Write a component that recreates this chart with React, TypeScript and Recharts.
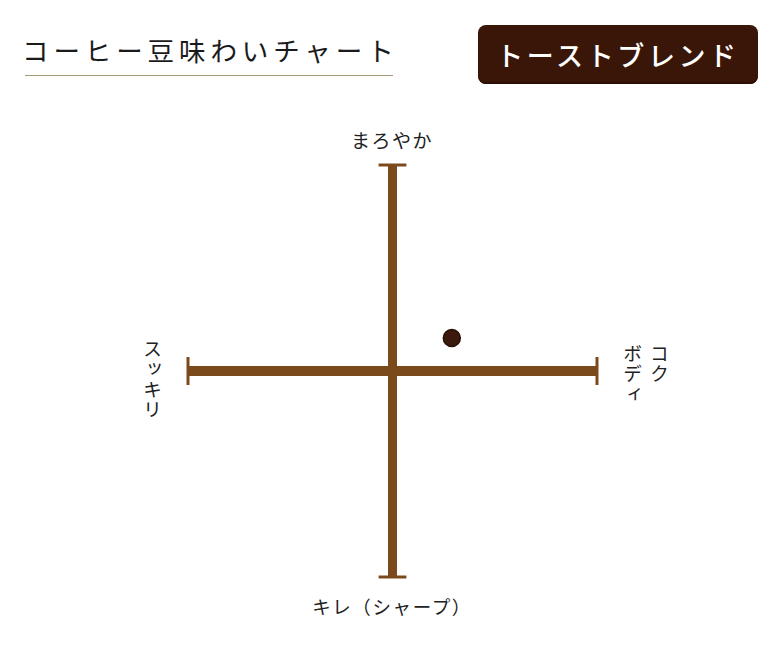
import React from "react";
import { ScatterChart, Scatter, XAxis, YAxis, ReferenceLine } from "recharts";

const domainMin = -5;
const domainMax = 5;
const beanPoints = [{ name: "トーストブレンド", x: 1.45, y: 0.8 }];
const axisLabels = {
  top: "まろやか",
  bottom: "キレ（シャープ）",
  left: "スッキリ",
  right: "コク\nボディ",
};
const titleText = "コーヒー豆味わいチャート";
const badgeText = "トーストブレンド";

const FONT = '"Noto Sans CJK JP", "Noto Sans CJK SC", sans-serif';
const LINE = "#7a4a1c";
const CAP = 0.34;

const Dot = (props: any) => {
  const { cx, cy } = props;
  return <circle cx={cx} cy={cy} r={8.5} fill="#3b1a0d" stroke="#2a0f05" strokeWidth={1.5} />;
};

export default function App() {
  return (
    <div
      style={{
        position: "absolute",
        left: 0,
        top: 0,
        width: 782,
        height: 671,
        background: "#fff",
        fontFamily: FONT,
        color: "#222",
      }}
    >
      <div
        style={{
          position: "absolute",
          left: 22,
          top: 32,
          fontSize: 26.5,
          letterSpacing: 4.9,
          lineHeight: "36px",
          whiteSpace: "nowrap",
          color: "#1a1a1a",
        }}
      >
        {titleText}
      </div>
      <div
        style={{
          position: "absolute",
          left: 25,
          top: 75,
          width: 368,
          height: 1,
          background: "#a8987a",
        }}
      />
      <div
        style={{
          position: "absolute",
          left: 478,
          top: 25,
          width: 280,
          height: 59,
          borderRadius: 8,
          background: "#3a1608",
          boxShadow: "inset 0 -2px 0 #2c0f04",
          color: "#fff",
          fontSize: 27,
          fontWeight: 500,
          letterSpacing: 3.6,
          lineHeight: "59px",
          textAlign: "center",
          whiteSpace: "nowrap",
        }}
      >
        {badgeText}
      </div>

      <ScatterChart
        width={782}
        height={671}
        margin={{ top: 165, right: 185, bottom: 94, left: 188 }}
        style={{ position: "absolute", left: 0, top: 0 }}
      >
        <XAxis type="number" dataKey="x" domain={[domainMin, domainMax]} hide />
        <YAxis type="number" dataKey="y" domain={[domainMin, domainMax]} hide />
        <ReferenceLine y={0} stroke={LINE} strokeWidth={10} />
        <ReferenceLine x={0} stroke={LINE} strokeWidth={9} />
        <ReferenceLine
          segment={[
            { x: domainMin, y: -CAP },
            { x: domainMin, y: CAP },
          ]}
          stroke={LINE}
          strokeWidth={3}
        />
        <ReferenceLine
          segment={[
            { x: domainMax, y: -CAP },
            { x: domainMax, y: CAP },
          ]}
          stroke={LINE}
          strokeWidth={3}
        />
        <ReferenceLine
          segment={[
            { x: -CAP, y: domainMax },
            { x: CAP, y: domainMax },
          ]}
          stroke={LINE}
          strokeWidth={3}
        />
        <ReferenceLine
          segment={[
            { x: -CAP, y: domainMin },
            { x: CAP, y: domainMin },
          ]}
          stroke={LINE}
          strokeWidth={3}
        />
        <Scatter data={beanPoints} shape={<Dot />} isAnimationActive={false} />
      </ScatterChart>

      <div
        style={{
          position: "absolute",
          left: 292,
          width: 200,
          top: 126,
          fontSize: 19,
          lineHeight: "28px",
          textAlign: "center",
          letterSpacing: 1.5,
        }}
      >
        {axisLabels.top}
      </div>
      <div
        style={{
          position: "absolute",
          left: 292,
          width: 200,
          top: 592,
          fontSize: 18.5,
          lineHeight: "28px",
          textAlign: "center",
          letterSpacing: 1.6,
        }}
      >
        {axisLabels.bottom}
      </div>
      <div
        style={{
          position: "absolute",
          left: 138,
          top: 339,
          fontSize: 19,
          lineHeight: "28px",
          writingMode: "vertical-rl",
          letterSpacing: 1.5,
        }}
      >
        {axisLabels.left}
      </div>
      <div
        style={{
          position: "absolute",
          left: 619,
          top: 344,
          fontSize: 19,
          lineHeight: "27px",
          writingMode: "vertical-rl",
          whiteSpace: "pre",
          letterSpacing: 1.5,
        }}
      >
        {axisLabels.right}
      </div>
    </div>
  );
}
